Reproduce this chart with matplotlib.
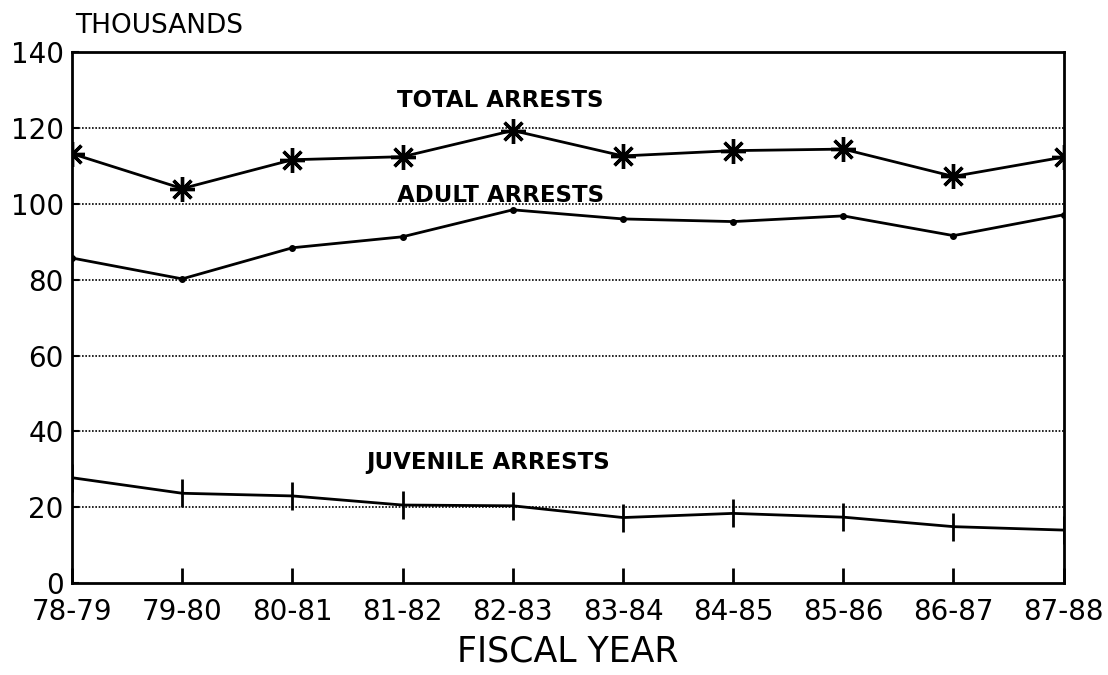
import numpy as np
import matplotlib
matplotlib.use('Agg')
import matplotlib.pyplot as plt

plt.rcParams['font.family'] = ['DejaVu Sans']

years = ['78-79', '79-80', '80-81', '81-82', '82-83',
         '83-84', '84-85', '85-86', '86-87', '87-88']
total = [113.2, 104.0, 111.6, 112.4, 119.3, 112.6, 114.0, 114.4, 107.2, 112.3]
adult = [85.7, 80.2, 88.4, 91.3, 98.4, 96.0, 95.3, 96.8, 91.6, 97.1]
juvenile = [27.8, 23.7, 23.0, 20.6, 20.4, 17.3, 18.4, 17.4, 14.9, 14.0]

fig = plt.figure(figsize=(11.08, 6.75), dpi=100)
ax = fig.add_axes([0.065, 0.136, 0.895, 0.787])

x = np.arange(len(years))

# dotted grid lines
for yv in range(20, 140, 20):
    ax.axhline(yv, color='black', linestyle=(0, (1, 1)), linewidth=1.2, zorder=1)

ax.plot(x, total, color='black', linewidth=2, marker=(8, 2, 0),
        markersize=18, markeredgewidth=2.4, zorder=3)
ax.plot(x, adult, color='black', linewidth=2, marker='o',
        markersize=4, zorder=3)
ax.plot(x, juvenile, color='black', linewidth=2, marker='|',
        markersize=20, markeredgewidth=2, zorder=3)

ax.set_xlim(0, len(years) - 1)
ax.set_ylim(0, 140)
ax.set_xticks(x)
ax.set_xticklabels(years)
ax.set_yticks(range(0, 141, 20))
ax.tick_params(axis='x', direction='in', length=11, width=2, labelsize=20, pad=11)
ax.tick_params(axis='y', direction='in', length=5, width=1.5, labelsize=20, pad=6)
for sp in ax.spines.values():
    sp.set_linewidth(2)

ax.set_xlabel('FISCAL YEAR', fontsize=25, labelpad=6)
fig.text(0.068, 0.962, 'THOUSANDS', fontsize=19, ha='left', va='center')

ax.text(3.89, 127.1, 'TOTAL ARRESTS', fontsize=16.5, fontweight='bold', ha='center', va='center')
ax.text(3.89, 102.3, 'ADULT ARRESTS', fontsize=16.5, fontweight='bold', ha='center', va='center')
ax.text(3.78, 31.9, 'JUVENILE ARRESTS', fontsize=16.5, fontweight='bold', ha='center', va='center')

fig.savefig('out.png', dpi=100)
